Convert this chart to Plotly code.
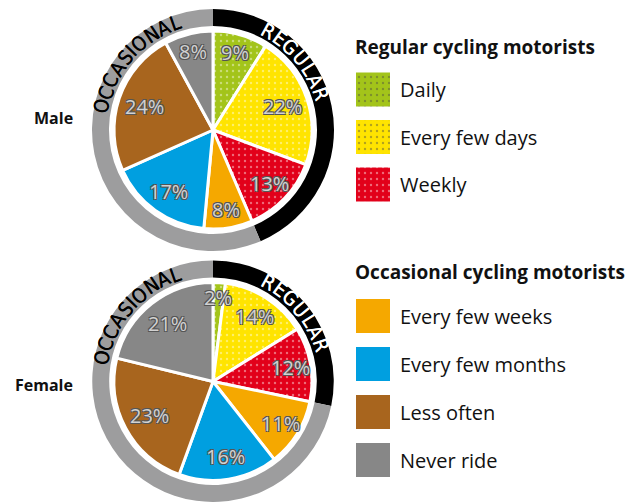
import math
import plotly.graph_objects as go

# ---------------- data ----------------
categories = ["Daily", "Every few days", "Weekly",
              "Every few weeks", "Every few months", "Less often", "Never ride"]
groups = ["Regular", "Regular", "Regular",
          "Occasional", "Occasional", "Occasional", "Occasional"]
male_values = [9, 22, 13, 8, 17, 24, 8]
female_values = [2, 14, 12, 11, 16, 23, 21]
panel_names = ["Male", "Female"]
ring_labels = ["REGULAR", "OCCASIONAL"]
legend_titles = ["Regular cycling motorists", "Occasional cycling motorists"]

colors = ["#a3c41a", "#ffe400", "#e2001a", "#f5a800", "#009fe0", "#a8651e", "#878787"]
ring_colors = ["#000000", "#9d9d9e"]

# ---------------- layout constants ----------------
OFF = 8                      # page body margin of the html page
W, H = 636 - OFF, 502 - OFF  # figure size so that it fills the window
FONT = "Open Sans, Noto Sans, sans-serif"
RING_FONT = "DejaVu Sans Condensed, Liberation Sans Narrow, Roboto, sans-serif"
centers = [(213 - OFF, 130 - OFF), (213 - OFF, 381.5 - OFF)]
R_PIE, R_RING_IN, R_RING_OUT = 99, 104, 121


def dom(cx, cy, r):
    return dict(x=[(cx - r) / W, (cx + r) / W],
                y=[max(0, 1 - (cy + r) / H), min(1, 1 - (cy - r) / H)])


fig = go.Figure()

patterns = ["." if g == "Regular" else "" for g in groups]
pattern_style = dict(shape=patterns, fgcolor="white", fgopacity=0.42,
                     bgcolor=colors, size=6, solidity=0.12)

ann = []
for (cx, cy), vals in zip(centers, [male_values, female_values]):
    reg = sum(v for v, g in zip(vals, groups) if g == "Regular")
    occ = sum(v for v, g in zip(vals, groups) if g == "Occasional")
    # outer ring
    fig.add_trace(go.Pie(
        values=[reg, occ], labels=ring_labels, sort=False, direction="clockwise",
        rotation=0, hole=R_RING_IN / R_RING_OUT, textinfo="none",
        marker=dict(colors=ring_colors, line=dict(width=0)),
        domain=dom(cx, cy, R_RING_OUT), showlegend=False, hoverinfo="skip"))
    # inner pie
    fig.add_trace(go.Pie(
        values=vals, labels=categories, sort=False, direction="clockwise",
        rotation=0, textinfo="none",
        marker=dict(colors=colors, line=dict(color="white", width=3),
                    pattern=pattern_style),
        domain=dom(cx, cy, R_PIE), showlegend=False, hoverinfo="label+value"))
    # slice labels at the bisector of each slice
    total = sum(vals)
    cum = 0
    for v in vals:
        f = v / total
        mid = (cum + f / 2) * 2 * math.pi
        cum += f
        rr = R_PIE * (0.86 - 0.55 * f)
        ann.append(dict(x=cx + rr * math.sin(mid), y=cy - rr * math.cos(mid),
                        xref="x", yref="y", text=f"{v}%", showarrow=False,
                        xanchor="center", yanchor="middle",
                        font=dict(family=FONT, size=20, color="#d2d2d2",
                                  shadow="1px 1px 0 #555, -1px -1px 0 #555, "
                                         "1px -1px 0 #555, -1px 1px 0 #555")))

# ---------------- legend (bars on a hidden pixel axis) ----------------
SW_X, SW = 356 - OFF, 34
legend_rows = [y - OFF for y in [89.5, 137, 184.5, 316, 364, 412, 460]]
title_rows = [y - OFF for y in [47, 272]]

fig.add_trace(go.Bar(
    y=legend_rows, x=[SW] * len(categories), base=[SW_X] * len(categories),
    orientation="h", width=SW,
    marker=dict(color=colors, line=dict(width=0), pattern=pattern_style),
    showlegend=False, hoverinfo="skip", xaxis="x", yaxis="y"))

for cat, yy in zip(categories, legend_rows):
    ann.append(dict(x=SW_X + SW + 8, y=yy, xref="x", yref="y", text=cat,
                    showarrow=False, xanchor="left", yanchor="middle",
                    font=dict(family=FONT, size=20, color="#111")))
for t, yy in zip(legend_titles, title_rows):
    ann.append(dict(x=SW_X - 3, y=yy, xref="x", yref="y", text="<b>" + t + "</b>",
                    showarrow=False, xanchor="left", yanchor="middle",
                    font=dict(family=FONT, size=19, color="#111")))
for name, (cx, cy) in zip(panel_names, centers):
    ann.append(dict(x=75 - OFF, y=cy - 12 if name == "Male" else cy + 3,
                    xref="x", yref="y",
                    text="<b>" + name + "</b>", showarrow=False,
                    xanchor="right", yanchor="middle",
                    font=dict(family=FONT, size=16, color="#111")))

# ---------------- curved ring text ----------------
cw = {"R": .64, "E": .56, "G": .70, "U": .68, "L": .52, "A": .66, "O": .74,
      "C": .62, "S": .56, "I": .28, "N": .70}
arc_spec = {"REGULAR": (29, 71.5, "white"), "OCCASIONAL": (-78, -19.5, "black")}
R_TXT = (R_RING_IN + R_RING_OUT) / 2 + 1
for (cx, cy) in centers:
    for word, (a0, a1, col) in arc_spec.items():
        w = [cw[c] for c in word]
        cum, pos = 0, []
        for wi in w:
            pos.append(cum + wi / 2)
            cum += wi
        span = pos[-1] - pos[0]
        for ch, p in zip(word, pos):
            ang = a0 + (a1 - a0) * (p - pos[0]) / span
            rad = math.radians(ang)
            ann.append(dict(x=cx + R_TXT * math.sin(rad), y=cy - R_TXT * math.cos(rad),
                            xref="x", yref="y", text=ch,
                            showarrow=False, textangle=ang,
                            xanchor="center", yanchor="middle",
                            font=dict(family=RING_FONT, size=20, weight=400,
                                      color=col,
                                      shadow=f"0.35px 0 0 {col}")))

fig.update_layout(
    width=W, height=H, margin=dict(l=0, r=0, t=0, b=0),
    paper_bgcolor="white", plot_bgcolor="rgba(0,0,0,0)",
    xaxis=dict(range=[0, W], domain=[0, 1], visible=False, fixedrange=True),
    yaxis=dict(range=[H, 0], domain=[0, 1], visible=False, fixedrange=True),
    annotations=ann, showlegend=False)

fig.write_html("out.html")
